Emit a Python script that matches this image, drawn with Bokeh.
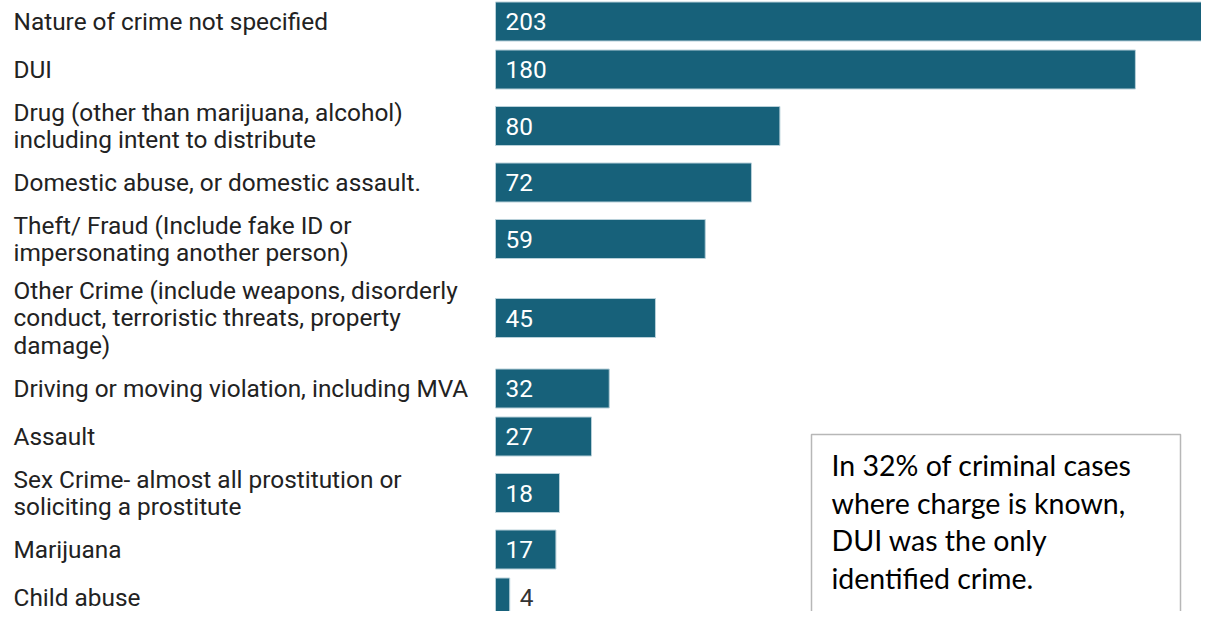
from bokeh.plotting import figure
from bokeh.models import ColumnDataSource, Range1d, BoxAnnotation
from bokeh.core.properties import value
from bokeh.embed import file_html
from bokeh.resources import INLINE

categories = [
    "Nature of crime not specified",
    "DUI",
    "Drug (other than marijuana, alcohol)\nincluding intent to distribute",
    "Domestic abuse, or domestic assault.",
    "Theft/ Fraud (Include fake ID or\nimpersonating another person)",
    "Other Crime (include weapons, disorderly\nconduct, terroristic threats, property\ndamage)",
    "Driving or moving violation, including MVA",
    "Assault",
    "Sex Crime- almost all prostitution or\nsoliciting a prostitute",
    "Marijuana",
    "Child abuse",
]
counts = [203, 180, 80, 72, 59, 45, 32, 27, 18, 17, 4]
note = "In 32%  of criminal cases\nwhere charge is known,\nDUI was the only\nidentified crime."

W, H = 1201, 611
X0 = 495          # canvas x where bars start
SCALE = 3.555     # px per count
LINE_PX = 28
FS = 24.4
SHIFT = 6         # vertical shift up so bottom row fits

# row layout derived from number of label lines
centers = []
top = 0
for c in categories:
    n = c.count("\n") + 1
    h = max(48, n * LINE_PX + 9)
    centers.append(top + h / 2)
    top += h

BAR_COLOR = "#17617a"

p = figure(width=W, height=H, output_backend="svg", toolbar_location=None,
           x_range=Range1d(-X0 / SCALE, (W - X0) / SCALE),
           y_range=Range1d(H - 3 + SHIFT, -3 + SHIFT), min_border=0)
p.axis.visible = False
p.grid.visible = False
p.outline_line_color = None
p.background_fill_color = "white"

src = ColumnDataSource(dict(y=centers, v=counts, cat=categories))
p.hbar(y="y", left=0, right="v", height=39, source=src,
       fill_color=BAR_COLOR, line_color="#b8d0d9", line_width=1)

p.text(x=-X0 / SCALE + 13 / SCALE, y="y", text="cat", source=src,
       text_font=value("Roboto"), text_font_size=f"{FS}px", text_color="#222222",
       text_baseline="middle", text_align="left",
       text_line_height=LINE_PX / (FS * 1.2))

inside = ColumnDataSource(dict(y=[c for c, v in zip(centers, counts) if v >= 10],
                               t=[str(v) for v in counts if v >= 10]))
outside = ColumnDataSource(dict(y=[c for c, v in zip(centers, counts) if v < 10],
                                x=[v for v in counts if v < 10],
                                t=[str(v) for v in counts if v < 10]))
p.text(x=0, y="y", text="t", source=inside, x_offset=10,
       text_font=value("Roboto"), text_font_size=f"{FS}px", text_color="white",
       text_baseline="middle")
p.text(x="x", y="y", text="t", source=outside, x_offset=10,
       text_font=value("Roboto"), text_font_size=f"{FS}px", text_color="#333333",
       text_baseline="middle")

# annotation box (reference pixel positions, converted to data)
bx_left = (811 - X0) / SCALE
bx_right = (1180 - X0) / SCALE
p.add_layout(BoxAnnotation(left=bx_left, right=bx_right, top=440 - 3, bottom=H + 50,
                           fill_color=None, fill_alpha=0.0,
                           line_color="#111111", line_width=1.5))
NFS = 28.5
p.text(x=(831 - X0) / SCALE, y=528 - 4, text=[note],
       text_font=value("Lato"), text_font_size=f"{NFS}px", text_color="black",
       text_baseline="middle", text_align="left",
       text_line_height=38 / (NFS * 1.2))

open("out.html", "w").write(file_html(p, INLINE))
